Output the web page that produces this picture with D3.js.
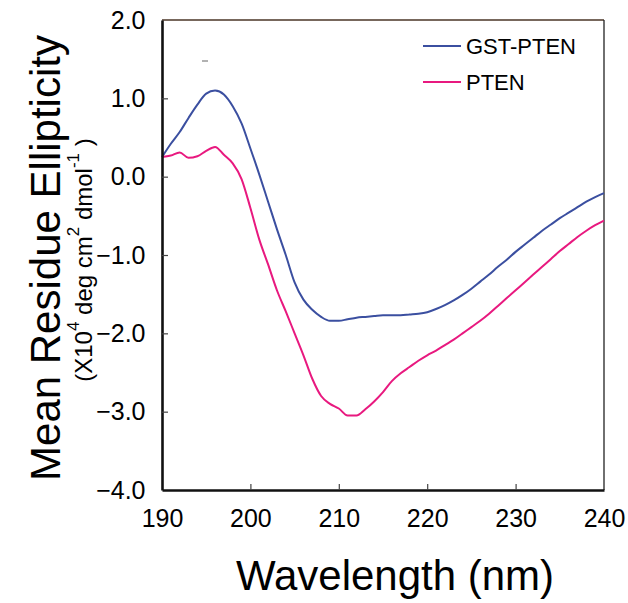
<!DOCTYPE html>
<html>
<head>
<meta charset="utf-8">
<script src="https://cdn.jsdelivr.net/npm/d3@7"></script>
</head>
<body style="margin:0">
<div id="chart"></div>
<script>
const wavelengths = d3.range(190, 241);
const gstPten = [0.25, 0.42, 0.57, 0.75, 0.92, 1.06, 1.1, 1.05, 0.9, 0.68,
  0.36, 0.03, -0.32, -0.67, -1.0, -1.35, -1.57, -1.7, -1.79, -1.84,
  -1.84, -1.82, -1.8, -1.79, -1.78, -1.77, -1.77, -1.77, -1.76, -1.75,
  -1.73, -1.69, -1.64, -1.58, -1.51, -1.43, -1.34, -1.25, -1.15, -1.06,
  -0.96, -0.87, -0.78, -0.69, -0.61, -0.53, -0.46, -0.39, -0.32, -0.26, -0.21];
const pten = [0.25, 0.27, 0.31, 0.24, 0.26, 0.33, 0.38, 0.28, 0.17, -0.03,
  -0.4, -0.8, -1.12, -1.45, -1.72, -2.0, -2.28, -2.58, -2.8, -2.9,
  -2.96, -3.05, -3.05, -2.97, -2.87, -2.75, -2.61, -2.51, -2.43, -2.35,
  -2.28, -2.22, -2.15, -2.08, -2.0, -1.92, -1.84, -1.75, -1.65, -1.55,
  -1.45, -1.35, -1.25, -1.15, -1.05, -0.95, -0.86, -0.77, -0.69, -0.62, -0.56];
const xTicks = [190, 200, 210, 220, 230, 240];
const yTicks = [2, 1, 0, -1, -2, -3, -4];
const seriesNames = ["GST-PTEN", "PTEN"];
const seriesColors = ["#3b4fa0", "#e8197f"];

const width = 628, height = 603;
const font = "Liberation Sans, Arial, sans-serif";

const x = d3.scaleLinear().domain([190, 240]).range([162, 604]);
const y = d3.scaleLinear().domain([-4, 2]).range([490, 20]);

const svg = d3.select("#chart").append("svg").attr("width", width).attr("height", height);

// top and right edges of the frame
svg.append("line").attr("x1", x(190)).attr("x2", x(240)).attr("y1", y(2)).attr("y2", y(2))
  .attr("stroke", "#4a3426").attr("stroke-width", 1.6);
svg.append("line").attr("x1", x(240)).attr("x2", x(240)).attr("y1", y(2)).attr("y2", y(-4))
  .attr("stroke", "#222").attr("stroke-width", 1.3);

// series lines
const line = d3.line().x((d, i) => x(wavelengths[i])).y(d => y(d)).curve(d3.curveMonotoneX);
[gstPten, pten].forEach((s, k) => {
  svg.append("path").datum(s).attr("d", line).attr("fill", "none")
    .attr("stroke", seriesColors[k]).attr("stroke-width", 2);
});

// axes with inward ticks, labels outside
const xAxis = svg.append("g").attr("transform", `translate(0,${y(-4)})`)
  .call(d3.axisBottom(x).tickValues(xTicks).tickSizeInner(-6).tickSizeOuter(0).tickPadding(14));
const yAxis = svg.append("g").attr("transform", `translate(${x(190)},0)`)
  .call(d3.axisLeft(y).tickValues(yTicks).tickSizeInner(-6).tickSizeOuter(0).tickPadding(14));
[xAxis, yAxis].forEach(g => {
  g.select(".domain").attr("stroke", "#111").attr("stroke-width", 2.6);
  g.selectAll(".tick line").attr("stroke", "#444").attr("stroke-width", 1.2);
  g.selectAll(".tick text").attr("font-family", font).attr("font-size", 25).attr("fill", "#000");
});
xAxis.selectAll(".tick text").attr("dy", "0.9em");
yAxis.selectAll(".tick text").attr("dx", "-0.1em");
xAxis.selectAll(".tick").filter(d => d === 190 || d === 240).select("line").remove();
yAxis.selectAll(".tick").filter(d => d === 2 || d === -4).select("line").remove();

// axis titles
svg.append("text").attr("x", 395).attr("y", 590).attr("text-anchor", "middle")
  .attr("font-family", font).attr("font-size", 42).text("Wavelength (nm)");

svg.append("text").attr("transform", "translate(60,258) rotate(-90)")
  .attr("text-anchor", "middle").attr("font-family", font).attr("font-size", 42)
  .text("Mean Residue Ellipticity");

const sub = svg.append("text").attr("transform", "translate(92,260) rotate(-90)")
  .attr("text-anchor", "middle").attr("font-family", font).attr("font-size", 24);
sub.append("tspan").text("(X10");
sub.append("tspan").attr("dy", -13).attr("font-size", 17).text("4");
sub.append("tspan").attr("dy", 13).text(" deg cm");
sub.append("tspan").attr("dy", -13).attr("font-size", 17).text("2");
sub.append("tspan").attr("dy", 13).text(" dmol");
sub.append("tspan").attr("dy", -13).attr("font-size", 17).text("-1");
sub.append("tspan").attr("dy", 13).text(" )");

// stray mark near top
svg.append("line").attr("x1", 202).attr("x2", 208).attr("y1", 61).attr("y2", 61)
  .attr("stroke", "#999").attr("stroke-width", 1.5);

// legend
seriesNames.forEach((n, k) => {
  const ly = 46 + k * 36;
  svg.append("line").attr("x1", 423).attr("x2", 461).attr("y1", ly).attr("y2", ly)
    .attr("stroke", seriesColors[k]).attr("stroke-width", 2);
  svg.append("text").attr("x", 466).attr("y", ly + 8).attr("font-family", font)
    .attr("font-size", 22).text(n);
});
</script>
</body>
</html>
